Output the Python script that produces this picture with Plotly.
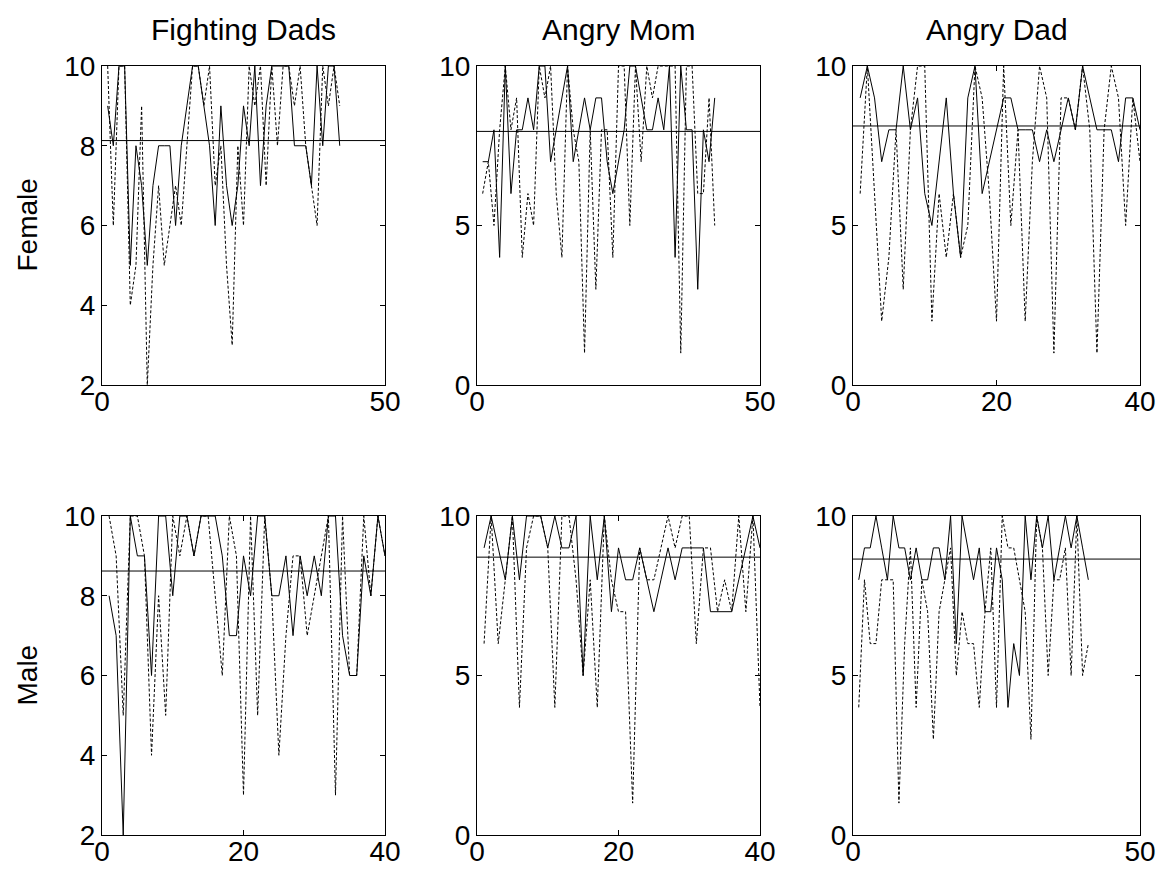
import plotly.graph_objects as go

# ---------------- data ----------------
panel_titles = ["Fighting Dads", "Angry Mom", "Angry Dad"]
row_labels = ["Female", "Male"]

# Female / Fighting Dads
f_fd_solid = [9, 8, 10, 10, 5, 8, 7, 5, 7, 8, 8, 8, 6, 8, 9, 10, 10, 9, 8, 6, 9,
              7, 6, 7, 9, 8, 10, 7, 9, 10, 10, 10, 10, 8, 8, 8, 7, 10, 8, 10, 10, 8]
f_fd_dash = [10, 6, 10, 10, 4, 5, 9, 2, 5, 7, 5, 6, 7, 6, 8, 10, 10, 9, 10, 7, 8,
             5, 3, 8, 6, 10, 9, 10, 7, 10, 8, 10, 10, 9, 10, 8, 7, 6, 10, 9, 10, 9]
# Female / Angry Mom
f_am_solid = [7, 7, 8, 4, 10, 6, 8, 8, 9, 8, 10, 10, 7, 8, 9, 10, 7, 8, 9, 8, 9,
              9, 7, 6, 7, 8, 10, 10, 9, 8, 8, 9, 8, 10, 4, 10, 8, 8, 3, 8, 7, 9]
f_am_dash = [6, 7, 5, 8, 10, 8, 9, 4, 6, 5, 10, 9, 10, 6, 4, 10, 8, 7, 1, 8, 3,
             8, 8, 4, 10, 10, 5, 10, 7, 10, 9, 10, 10, 10, 10, 1, 10, 10, 6, 6, 9, 5]
# Female / Angry Dad
f_ad_solid = [9, 10, 9, 7, 8, 8, 10, 8, 9, 6, 5, 7, 9, 6, 4, 9, 10, 6, 7, 8,
              9, 9, 8, 8, 8, 7, 8, 7, 8, 9, 8, 10, 9, 8, 8, 8, 7, 9, 9, 8]
f_ad_dash = [6, 10, 6, 2, 4, 8, 3, 8, 10, 10, 2, 6, 4, 6, 4, 5, 10, 9, 6, 2,
             10, 5, 8, 2, 7, 10, 9, 1, 9, 9, 8, 10, 8, 1, 8, 10, 9, 5, 9, 7]
# Male / Fighting Dads
m_fd_solid = [8, 7, 2, 10, 9, 9, 6, 10, 10, 8, 10, 10, 9, 10, 10, 10, 9, 7, 7, 9,
              8, 10, 10, 8, 8, 9, 7, 9, 8, 9, 8, 10, 10, 7, 6, 6, 9, 8, 10, 9]
m_fd_dash = [10, 9, 5, 10, 10, 9, 4, 8, 5, 10, 9, 10, 9, 10, 10, 8, 6, 10, 9, 3,
             10, 5, 10, 8, 4, 7, 9, 9, 7, 8, 9, 10, 3, 10, 6, 6, 10, 8, 10, 9]
# Male / Angry Mom
m_am_solid = [9, 10, 9, 8, 10, 8, 10, 10, 10, 9, 10, 9, 9, 10, 5, 10, 8, 10, 7, 9,
              8, 8, 9, 8, 7, 8, 9, 8, 9, 9, 9, 9, 7, 7, 7, 7, 8, 9, 10, 9]
m_am_dash = [6, 10, 6, 8, 10, 4, 9, 10, 10, 9, 4, 10, 10, 8, 5, 8, 4, 10, 8, 7,
             7, 1, 9, 8, 8, 9, 10, 9, 10, 10, 6, 9, 9, 7, 8, 7, 10, 7, 10, 4]
# Male / Angry Dad
m_ad_solid = [8, 9, 9, 10, 9, 8, 10, 9, 9, 8, 9, 8, 8, 9, 9, 8, 10, 6, 10, 9, 8,
              9, 7, 7, 9, 8, 4, 6, 5, 10, 8, 10, 9, 10, 8, 9, 10, 9, 10, 9, 8]
m_ad_dash = [4, 8, 6, 6, 8, 8, 8, 1, 6, 9, 4, 8, 7, 3, 7, 8, 9, 5, 7, 6, 6,
             4, 7, 9, 4, 10, 9, 9, 8, 7, 3, 10, 9, 5, 8, 8, 9, 5, 10, 5, 6]

female_means = [8.13, 7.95, 8.12]
male_means = [8.62, 8.71, 8.65]

# axis ranges / ticks per panel (row, col)
x_ranges = [[(0, 50), (0, 50), (0, 40)], [(0, 40), (0, 40), (0, 50)]]
x_ticks = [[[0, 50], [0, 50], [0, 20, 40]], [[0, 20, 40], [0, 20, 40], [0, 50]]]
y_ranges = [[(2, 10), (0, 10), (0, 10)], [(2, 10), (0, 10), (0, 10)]]
y_ticks = [[[2, 4, 6, 8, 10], [0, 5, 10], [0, 5, 10]],
           [[2, 4, 6, 8, 10], [0, 5, 10], [0, 5, 10]]]

solid = [[f_fd_solid, f_am_solid, f_ad_solid], [m_fd_solid, m_am_solid, m_ad_solid]]
dashed = [[f_fd_dash, f_am_dash, f_ad_dash], [m_fd_dash, m_am_dash, m_ad_dash]]
means = [female_means, male_means]

# ---------------- layout geometry ----------------
W, H = 1158, 873
col_px = [(102, 385), (477, 760), (853, 1140)]
row_px = [(66, 385), (516, 835)]
FONT = "Liberation Sans, Arial, sans-serif"
TICK_SIZE = 28
TITLE_SIZE = 30
ROW_SIZE = 28

fig = go.Figure()
layout = dict(
    width=W, height=H, margin=dict(l=0, r=0, t=0, b=0, pad=0, autoexpand=False),
    paper_bgcolor="white", plot_bgcolor="white", showlegend=False,
    font=dict(family=FONT, size=TICK_SIZE, color="black"),
)

k = 0
for r in range(2):
    for c in range(3):
        k += 1
        xa = "xaxis" if k == 1 else f"xaxis{k}"
        ya = "yaxis" if k == 1 else f"yaxis{k}"
        xref = "x" if k == 1 else f"x{k}"
        yref = "y" if k == 1 else f"y{k}"
        x0, x1 = col_px[c]
        y0, y1 = row_px[r]
        axis_common = dict(
            showline=True, linecolor="black", linewidth=1, mirror="allticks",
            ticks="inside", ticklen=5, tickcolor="black", tickwidth=1,
            showgrid=False, zeroline=False, automargin=False, ticklabeloverflow="allow",
            tickfont=dict(size=TICK_SIZE, family=FONT, color="black"),
        )
        layout[xa] = dict(axis_common, domain=[x0 / W, x1 / W], range=list(x_ranges[r][c]),
                          tickvals=x_ticks[r][c], anchor=yref, ticklabelstandoff=-9)
        layout[ya] = dict(axis_common, domain=[1 - y1 / H, 1 - y0 / H], range=list(y_ranges[r][c]),
                          tickvals=y_ticks[r][c], anchor=xref)

        s = solid[r][c]
        d = dashed[r][c]
        fig.add_trace(go.Scatter(x=list(range(1, len(d) + 1)), y=d, mode="lines",
                                 line=dict(color="black", width=1, dash="3px,2px"),
                                 xaxis=xref, yaxis=yref))
        fig.add_trace(go.Scatter(x=list(range(1, len(s) + 1)), y=s, mode="lines",
                                 line=dict(color="black", width=1),
                                 xaxis=xref, yaxis=yref))
        xr = x_ranges[r][c]
        m = means[r][c]
        fig.add_trace(go.Scatter(x=[xr[0], xr[1]], y=[m, m], mode="lines",
                                 line=dict(color="black", width=1),
                                 xaxis=xref, yaxis=yref))

annotations = []
for c, t in enumerate(panel_titles):
    x0, x1 = col_px[c]
    annotations.append(dict(text=t, x=(x0 + x1) / 2 / W, y=1 - 30 / H, xref="paper", yref="paper",
                            showarrow=False, font=dict(size=TITLE_SIZE, family=FONT, color="black"),
                            xanchor="center", yanchor="middle"))
for r, t in enumerate(row_labels):
    y0, y1 = row_px[r]
    annotations.append(dict(text=t, x=27 / W, y=1 - (y0 + y1) / 2 / H, xref="paper", yref="paper",
                            showarrow=False, textangle=-90,
                            font=dict(size=ROW_SIZE, family=FONT, color="black"),
                            xanchor="center", yanchor="middle"))
layout["annotations"] = annotations
fig.update_layout(**layout)
fig.write_html(
    "out.html",
    config={"displayModeBar": False, "staticPlot": True},
    post_script="document.body.style.margin='0';document.body.style.overflow='hidden';",
)
